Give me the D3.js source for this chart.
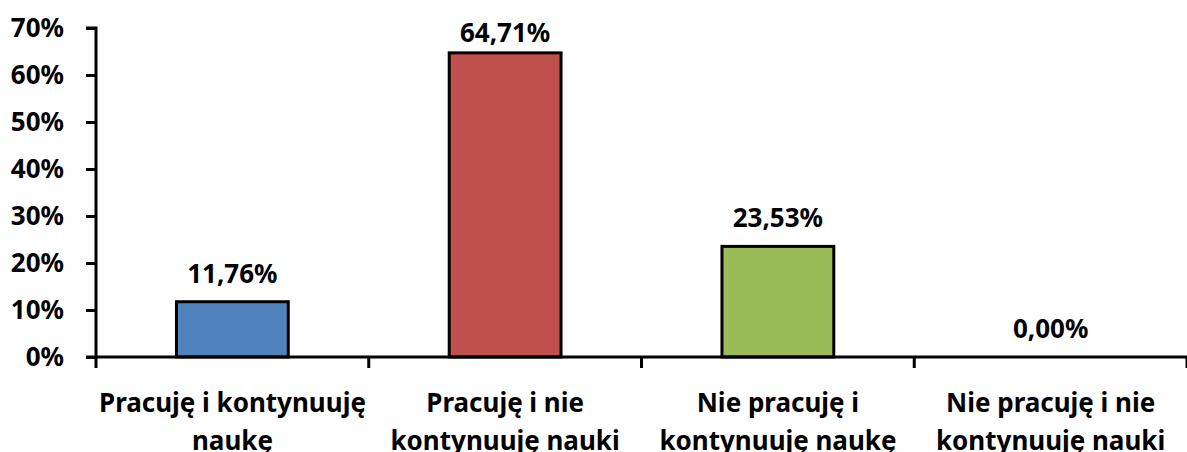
<!DOCTYPE html>
<html>
<head>
<meta charset="utf-8">
<script src="https://cdn.jsdelivr.net/npm/d3@7"></script>
<style>
  body { margin: 0; background: #fff; }
  svg text { font-family: "Noto Sans", sans-serif; font-weight: bold; fill: #000; }
</style>
</head>
<body>
<svg id="chart" width="1187" height="452"></svg>
<script>
const categories = [
  ["Pracuję i kontynuuję", "naukę"],
  ["Pracuję i nie", "kontynuuję nauki"],
  ["Nie pracuję i", "kontynuuję naukę"],
  ["Nie pracuję i nie", "kontynuuję nauki"]
];
const values = [11.76, 64.71, 23.53, 0.00];
const colors = ["#4F81BD", "#C0504D", "#9BBB59", "#8064A2"];
const yTicks = [0, 10, 20, 30, 40, 50, 60, 70];

const svg = d3.select("#chart");
const margin = { top: 28, right: 0, bottom: 95, left: 96 };
const width = 1187, height = 452;

const x = d3.scaleBand()
  .domain(d3.range(categories.length))
  .range([margin.left, width - margin.right])
  .paddingInner(0.59)
  .paddingOuter(0.295);
const y = d3.scaleLinear().domain([0, 70]).range([height - margin.bottom, margin.top]);

// bars
svg.append("g").selectAll("rect")
  .data(values)
  .enter().append("rect")
  .attr("x", (d, i) => x(i))
  .attr("y", d => y(d))
  .attr("width", x.bandwidth())
  .attr("height", d => y(0) - y(d))
  .attr("fill", (d, i) => colors[i])
  .attr("stroke", "#000")
  .attr("stroke-width", 3);

// y axis
const yAxis = svg.append("g")
  .attr("transform", `translate(${margin.left},0)`)
  .call(d3.axisLeft(y).tickValues(yTicks).tickSize(10).tickFormat(d => d + "%"));
yAxis.select(".domain").attr("stroke", "#000").attr("stroke-width", 3)
  .attr("d", `M-10,${y(70)}H0V${y(0)}`);
yAxis.selectAll(".tick line").attr("stroke", "#000").attr("stroke-width", 3);
yAxis.selectAll(".tick text")
  .attr("x", -32)
  .attr("dy", "0.33em")
  .style("font-size", "26px")
  .style("font-family", "'Noto Sans', sans-serif");

// x axis
const boundaries = d3.range(categories.length + 1).map(i => margin.left + i * (width - margin.left) / categories.length);
const xAxis = svg.append("g");
xAxis.append("line")
  .attr("x1", margin.left - 10).attr("x2", width)
  .attr("y1", y(0)).attr("y2", y(0))
  .attr("stroke", "#000").attr("stroke-width", 3);
xAxis.selectAll(".xtick")
  .data(boundaries)
  .enter().append("line")
  .attr("class", "xtick")
  .attr("x1", d => d).attr("x2", d => d)
  .attr("y1", y(0)).attr("y2", y(0) + 11)
  .attr("stroke", "#000").attr("stroke-width", 3);

// category labels
const catLabels = svg.append("g").selectAll("text")
  .data(categories)
  .enter().append("text")
  .attr("text-anchor", "middle")
  .attr("x", (d, i) => x(i) + x.bandwidth() / 2)
  .attr("y", y(0) + 55)
  .style("font-size", "26px");
catLabels.selectAll("tspan")
  .data(d => d)
  .enter().append("tspan")
  .attr("x", function () { return d3.select(this.parentNode).attr("x"); })
  .attr("dy", (d, i) => i === 0 ? 0 : 38)
  .text(d => d);

// value labels (kept inside the plot at the top, like Excel does)
svg.append("g").selectAll("text")
  .data(values)
  .enter().append("text")
  .attr("text-anchor", "middle")
  .attr("x", (d, i) => x(i) + x.bandwidth() / 2)
  .attr("y", d => Math.max(y(d) - 19, margin.top + 14))
  .style("font-size", "26px")
  .text(d => d.toFixed(2).replace(".", ",") + "%");
</script>
</body>
</html>
